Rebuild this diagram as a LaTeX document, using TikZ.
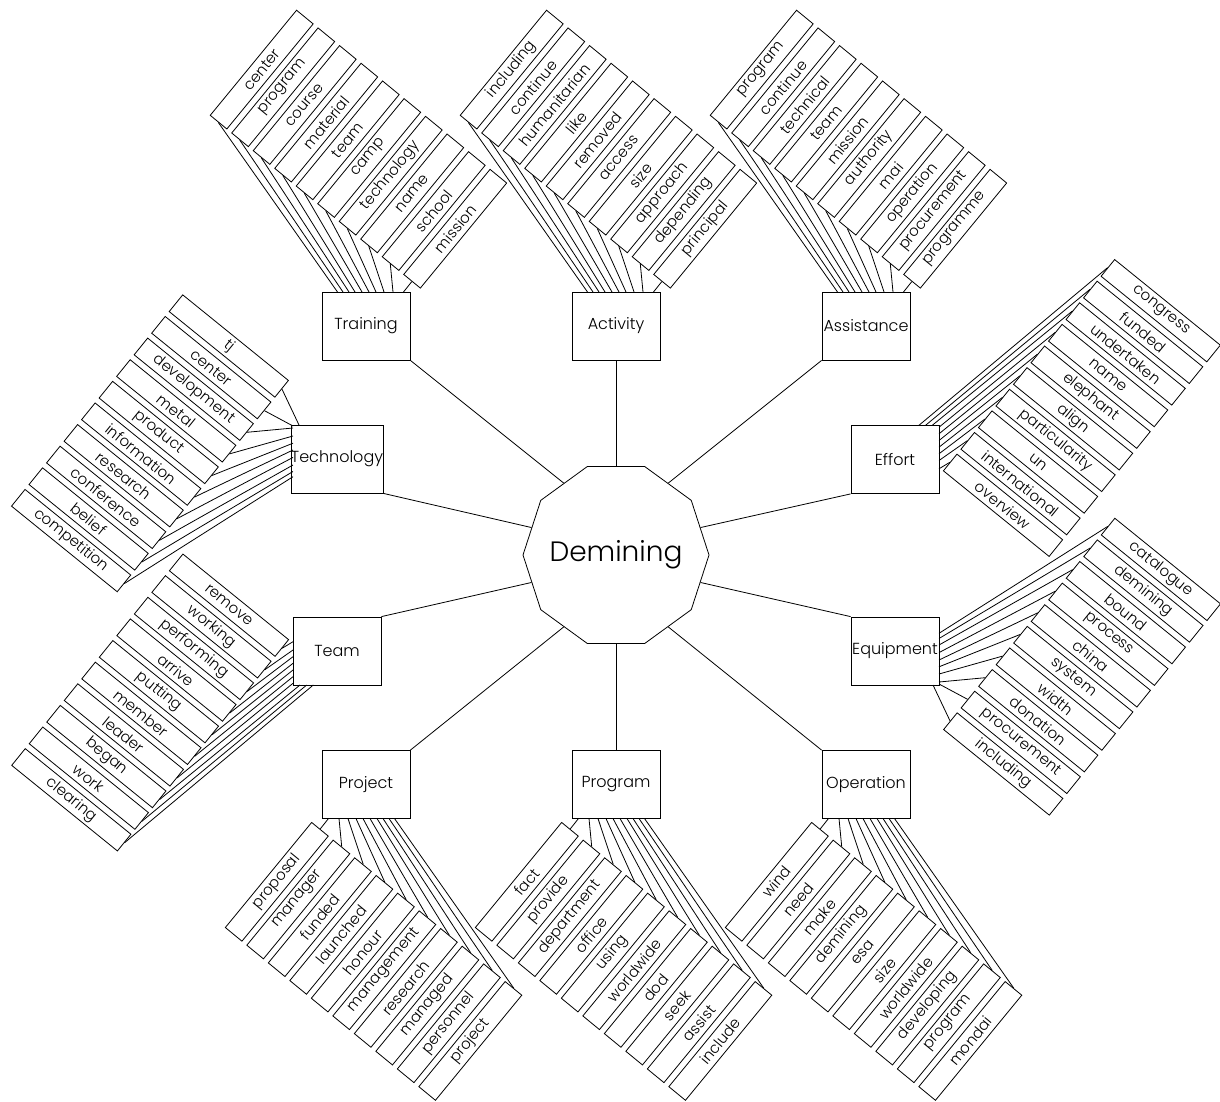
\documentclass[tikz,border=0pt]{standalone}
\usepackage{fontspec}
\setmainfont{Poppins Light}
\usetikzlibrary{calc,shapes.geometric}
\newcommand\wordgroup[8]{%
  \foreach \w/\px/\py [count=\i from 0] in {#8} {%
    \node[wordbox,rotate=#6] (#1-\i) at ($(#1.center)+({#2+(#4)*\i},{#3+(#5)*\i})$) {\w};
    \draw (#1-\i.#7) -- ($(#1.center)+(\px,\py)$);
  }%
}
\begin{document}
\begin{tikzpicture}[x=1pt,y=-1pt,line width=0.8pt,
  catbox/.style={draw,rectangle,minimum width=88pt,minimum height=68pt,inner sep=0pt,font=\fontsize{16}{16}\selectfont},
  wordbox/.style={draw,rectangle,minimum width=136pt,minimum height=21.5pt,inner sep=0pt,font=\fontsize{15}{15}\selectfont},
  hub/.style={draw,regular polygon,regular polygon sides=10,minimum size=186pt,inner sep=0pt,label={[font=\fontsize{28}{28}\selectfont]center:Demining}}]
\useasboundingbox (0,0) rectangle (1220,1101);
\node[hub] (D) at (616,555) {};
\node[catbox] (Training) at (366,326) {Training};
\node[catbox] (Activity) at (616,326) {Activity};
\node[catbox] (Assistance) at (866,326) {Assistance};
\node[catbox] (Technology) at (337,459) {Technology};
\node[catbox] (Effort) at (895,459.5) {Effort};
\node[catbox] (Team) at (337,651) {Team};
\node[catbox] (Equipment) at (895,651) {Equipment};
\node[catbox] (Project) at (366,784.5) {Project};
\node[catbox] (Program) at (616,784.5) {Program};
\node[catbox] (Operation) at (866,784.5) {Operation};
\draw (Activity.south) -- (D.90);
\draw (Training.south east) -- (D.126);
\draw (Technology.south east) -- (D.162);
\draw (Team.north east) -- (D.198);
\draw (Project.north east) -- (D.234);
\draw (Program.north) -- (D.270);
\draw (Operation.north west) -- (D.306);
\draw (Equipment.north west) -- (D.342);
\draw (Effort.south west) -- (D.18);
\draw (Assistance.south west) -- (D.54);
\wordgroup{Training}{-104.3}{-256.4}{21.5}{17.68}{50.6}{west}{center/-28.5/-34, program/-23/-34, course/-17/-34, material/-11/-34, team/-4/-34, camp/3/-34, technology/10/-34, name/18/-34, school/27/-34, mission/37.5/-34}
\wordgroup{Activity}{-104.3}{-256.4}{21.5}{17.68}{50.6}{west}{including/-28.5/-34, continue/-23/-34, humanitarian/-17/-34, like/-11/-34, removed/-4/-34, access/3/-34, size/10/-34, approach/18/-34, depending/27/-34, principal/37.5/-34}
\wordgroup{Assistance}{-104.3}{-256.4}{21.5}{17.68}{50.6}{west}{program/-28.5/-34, continue/-23/-34, technical/-17/-34, team/-11/-34, mission/-4/-34, authority/3/-34, mai/10/-34, operation/18/-34, procurement/27/-34, programme/37.5/-34}
\wordgroup{Project}{-89.2}{97.3}{21.5}{17.68}{50.6}{east}{proposal/-37.5/34, manager/-27/34, funded/-18/34, launched/-10/34, honour/-3/34, management/4/34, research/11/34, managed/17/34, personnel/23/34, project/28.5/34}
\wordgroup{Program}{-89.2}{97.3}{21.5}{17.68}{50.6}{east}{fact/-37.5/34, provide/-27/34, department/-18/34, office/-10/34, using/-3/34, worldwide/4/34, dod/11/34, seek/17/34, assist/23/34, include/28.5/34}
\wordgroup{Operation}{-89.2}{97.3}{21.5}{17.68}{50.6}{east}{wind/-37.5/34, need/-27/34, make/-18/34, demining/-10/34, esa/-3/34, size/4/34, worldwide/11/34, developing/17/34, program/23/34, mondai/28.5/34}
\wordgroup{Technology}{-108.2}{-113}{-17.52}{21.62}{-39}{east}{tj/-38/-34, center/-44/-33, development/-44/-31, metal/-44/-23, product/-44/-15.8, information/-44/-9, research/-44/-1.6, conference/-44/6, belief/-44/12.5, competition/-44/17.7}
\wordgroup{Team}{-108}{-45.8}{-17.52}{21.62}{-39}{east}{remove/-44/-9.3, working/-44/-1, performing/-44/5.7, arrive/-44/12.3, putting/-44/19, member/-44/25.7, leader/-44/32.3, began/-37/34, work/-30.3/34, clearing/-23.7/34}
\wordgroup{Effort}{265.7}{-148.8}{-17.52}{21.62}{-39}{west}{congress/23.7/-34, funded/30.3/-34, undertaken/37/-34, name/44/-32.3, elephant/44/-25.7, align/44/-19, particularity/44/-12.3, un/44/-5.7, international/44/1, overview/44/9.3}
\wordgroup{Equipment}{265.9}{-81.6}{-17.52}{21.62}{-39}{west}{catalogue/44/-17.7, demining/44/-12.5, bound/44/-6, process/44/1.6, china/44/9, system/44/15.8, width/44/23, donation/44/31, procurement/44/33, including/38/34}
\end{tikzpicture}
\end{document}
